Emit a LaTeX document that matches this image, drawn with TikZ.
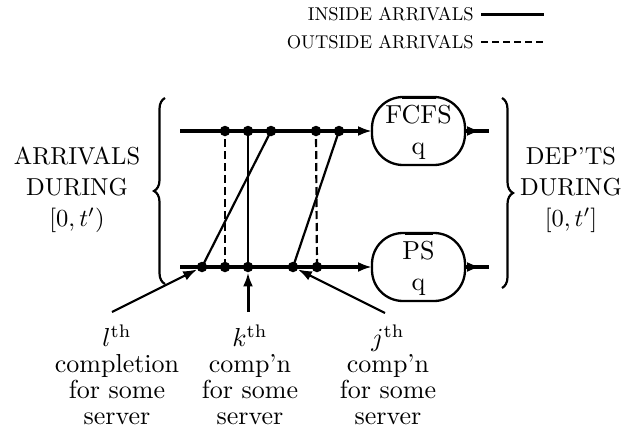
\documentclass[tikz,border=0pt]{standalone}
\usetikzlibrary{arrows.meta,decorations.pathreplacing}
\begin{document}
\begin{tikzpicture}[x=1pt,y=-1pt,
  main/.style={line width=3.8pt},
  thinline/.style={line width=2.2pt},
  dashline/.style={line width=2.2pt,dash pattern=on 8pt off 4pt},
  dot/.style={circle,fill,inner sep=0pt,minimum size=10.5pt},
  tipend/.style={-{Latex[length=14pt,width=10pt]}},
  queue/.style={draw,line width=2.3pt,rounded corners=31pt,minimum width=93pt,minimum height=68pt,inner sep=0pt,outer sep=0pt},
  boxtxt/.style={scale=2.6,font=\fontsize{10}{12}\selectfont,align=center,inner sep=0pt},
  bigtxt/.style={scale=2.45,font=\fontsize{10}{12.6}\selectfont,align=center,inner sep=0pt},
  labtxt/.style={scale=2.6,font=\fontsize{10}{10}\selectfont,align=center,inner sep=0pt},
  legtxt/.style={scale=1.85,font=\fontsize{10}{12}\selectfont,inner sep=0pt},
  bracestyle/.style={line width=2.2pt,decorate,decoration={brace,amplitude=11pt}}
]
\useasboundingbox (0,0) rectangle (633,431);

% legend
\node[legtxt,anchor=east] (ins) at (474,14) {INSIDE ARRIVALS};
\node[legtxt,anchor=east] (outs) at (474,42) {OUTSIDE ARRIVALS};
\coordinate (s1) at (481,14); \coordinate (s2) at (544,14);
\coordinate (d1) at (481,42); \coordinate (d2) at (544,42);
\draw[line width=3pt] (s1) -- (s2);
\draw[line width=2.2pt,dash pattern=on 7pt off 4pt] (d1) -- (d2);

% queues
\node[queue] (f) at (418.5,131) {};
\node[queue] (p) at (418.5,267) {};
\draw[line width=3.6pt] ([xshift=-17pt,yshift=-0.6pt]f.north) -- ([xshift=17pt,yshift=-0.6pt]f.north);
\draw[line width=3.6pt] ([xshift=-14pt,yshift=-0.6pt]p.north) -- ([xshift=14pt,yshift=-0.6pt]p.north);
\node[boxtxt] (ft) at (418.5,132) {FCFS\\q};
\node[boxtxt] (pt) at (418.5,268) {PS\\q};

% horizontal lines
\coordinate (tl) at (180,131);
\coordinate (bl) at (180,267);
\draw[main,tipend] (tl) -- (f.west);
\draw[main,tipend] (bl) -- (p.west);
\coordinate (fa) at (481,131); \coordinate (fo) at (489,131);
\coordinate (pa) at (481,267); \coordinate (po) at (489,267);
\draw[main] (f.east) -- (fo);
\draw[main,tipend] (f.east) -- (fa);
\draw[main] (p.east) -- (po);
\draw[main,tipend] (p.east) -- (pa);

% dots
\node[dot] (t1) at (225,131) {};
\node[dot] (t2) at (248,131) {};
\node[dot] (t3) at (271,131) {};
\node[dot] (t4) at (316,131) {};
\node[dot] (t5) at (339,131) {};
\node[dot] (b1) at (202,267) {};
\node[dot] (b2) at (225,267) {};
\node[dot] (b3) at (248,267) {};
\node[dot] (b4) at (293,267) {};
\node[dot] (b5) at (317,267) {};

\draw[dashline] (b2.center) -- (t1.center);
\draw[thinline] (b3.center) -- (t2.center);
\draw[dashline] (b5.center) -- (t4.center);
\draw[thinline] (b1.center) -- (t3.center);
\draw[thinline] (b4.center) -- (t5.center);

% braces
\draw[bracestyle] (165,284) -- (165,98);
\draw[bracestyle] (502,98) -- (502,288);

% side texts
\node[bigtxt] (arr) at (77,190) {ARRIVALS\\DURING\\$[0,t')$};
\node[bigtxt] (dep) at (571,190) {DEP'TS\\DURING\\$[0,t']$};

% bottom labels
\node[labtxt] (ll) at (117,375) {$l^{\mathrm{th}}$\\completion\\for some\\server};
\node[labtxt] (kl) at (250,375) {$k^{\mathrm{th}}$\\comp'n\\for some\\server};
\node[labtxt] (jl) at (388,375) {$j^{\mathrm{th}}$\\comp'n\\for some\\server};

\coordinate (la) at (112,312);
\coordinate (ka) at (248,312);
\coordinate (ja) at (385,313);
\draw[thinline,tipend] (la) -- (b1);
\draw[line width=3pt,tipend] (ka) -- (b3);
\draw[thinline,tipend] (ja) -- (b4);
\end{tikzpicture}
\end{document}
